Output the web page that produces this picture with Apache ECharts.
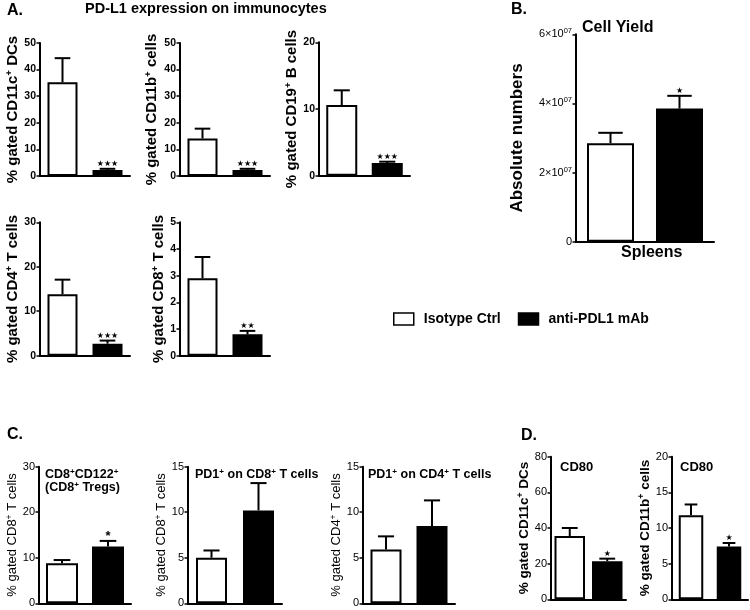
<!DOCTYPE html>
<html><head><meta charset="utf-8">
<script src="https://cdn.jsdelivr.net/npm/echarts@6/dist/echarts.min.js"></script>
<style>html,body{margin:0;padding:0;background:#fff}#c{width:750px;height:610px}</style>
</head><body><div id="c"></div>
<script>
// ---------- data ----------
const panelIds   = ['A1','A2','A3','A4','A5','B','C1','C2','C3','D1','D2'];
const groups     = ['Isotype Ctrl','anti-PDL1 mAb'];
const isoMean    = [35.2, 14.1, 10.6, 13.8, 2.9, 2.85e7, 8.8, 5.0, 5.9, 35.5, 11.8];
const isoUpper   = [44.3, 17.8, 12.8, 17.1, 3.7, 3.15e7, 9.5, 5.8, 7.35, 40.0, 13.3];
const antiMean   = [2.3, 2.3, 1.9, 2.7, 0.8, 3.85e7, 12.5, 10.2, 8.5, 21.4, 7.4];
const antiUpper  = [2.7, 2.7, 2.1, 3.4, 0.93, 4.22e7, 13.7, 13.2, 11.3, 22.8, 7.9];
const signif     = ['★★★','★★★','★★★','★★★','★★','★','*','','','★','★'];
const yMax       = [50, 50, 20, 30, 5, 6e7, 30, 15, 15, 80, 20];
const yInterval  = [10, 10, 10, 10, 1, 2e7, 10, 5, 5, 20, 5];
const yNames     = ['% gated CD11c{s|+} DCs','% gated CD11b{s|+} cells','% gated CD19{s|+} B cells',
                    '% gated CD4{s|+} T cells','% gated CD8{s|+} T cells','Absolute numbers',
                    '% gated CD8{s|+} T cells','% gated CD8{s|+} T cells','% gated CD4{s|+} T cells',
                    '% gated CD11c{s|+} DCs','% gated CD11b{s|+} cells'];
const bTickLabels = ['0','{m|2×10}{s|07}','{m|4×10}{s|07}','{m|6×10}{s|07}'];

// ---------- layout / style ----------
const FONT = 'Liberation Sans, Arial, sans-serif';
const gLeft   = [40, 180, 319, 40, 180, 576, 39, 188, 363, 551, 672];
const gTop    = [43, 43, 42.3, 222.3, 222.3, 34.3, 466.7, 466.7, 466.7, 456.7, 456.7];
const gWidth  = [90, 90, 91, 90, 90, 138, 92, 94, 92, 75, 76];
const gHeight = [133, 133, 133.4, 133.4, 133.4, 207.4, 136.6, 136.6, 136.6, 142.6, 142.6];
const barW    = [30, 30, 31, 30, 30, 47, 32, 31, 31, 30.5, 24.5];
const nGap    = [16, 20, 19, 17, 12, 50, 17, 13, 14, 15, 15];
const nSize   = [15, 15, 15, 15, 15, 17, 13, 13, 13, 13.5, 13.5];
const nWeight = ['bold','bold','bold','bold','bold','bold','normal','normal','normal','bold','bold'];
const tickSize= [10.5,10.5,10.5,10.5,10.5,11,11,11,11,11,11];
const tickW   = ['bold','bold','bold','bold','bold','normal','normal','normal','normal','normal','normal'];

const grid = [], xAxis = [], yAxis = [], series = [];
panelIds.forEach((id, i) => {
  grid.push({left: gLeft[i], top: gTop[i], width: gWidth[i], height: gHeight[i], outerBoundsMode: 'none'});
  xAxis.push({type: 'category', gridIndex: i, data: groups,
    axisLine: {show: true, lineStyle: {color: '#000', width: 2}},
    axisTick: {show: false}, axisLabel: {show: false}});
  const isB = id === 'B';
  yAxis.push({type: 'value', gridIndex: i, min: 0, max: yMax[i], interval: yInterval[i],
    axisLine: {show: true, lineStyle: {color: '#000', width: 2}},
    axisTick: {show: true, length: 3.5, lineStyle: {color: '#000', width: 1.5}},
    splitLine: {show: false},
    axisLabel: isB ? {
        margin: 4, formatter: (v, idx) => bTickLabels[idx],
        color: '#000', fontFamily: FONT, fontSize: 11,
        rich: {m: {fontSize: 11, fontFamily: FONT, color: '#000'},
               s: {fontSize: 7.5, fontFamily: FONT, color: '#000', verticalAlign: 'top', padding: [0,0,6,0]}}
      } : {margin: 4, color: '#000', fontFamily: FONT, fontSize: tickSize[i], fontWeight: tickW[i]},
    name: yNames[i], nameLocation: 'middle', nameRotate: 90, nameGap: nGap[i],
    nameTextStyle: {color: '#000', fontFamily: FONT, fontSize: nSize[i], fontWeight: nWeight[i],
      rich: {s: {fontSize: nSize[i] * 0.65, fontFamily: FONT, fontWeight: nWeight[i], color: '#000',
                 verticalAlign: 'top', padding: [0, 0, nSize[i] * 0.45, 0]}}}
  });
  series.push({type: 'bar', name: groups[0], xAxisIndex: i, yAxisIndex: i,
    data: [isoMean[i], '-'], barWidth: barW[i], barGap: '-100%',
    itemStyle: {color: '#fff', borderColor: '#000', borderWidth: 2}, z: 2});
  series.push({type: 'bar', name: groups[1], xAxisIndex: i, yAxisIndex: i,
    data: ['-', antiMean[i]], barWidth: barW[i], barGap: '-100%',
    itemStyle: {color: '#000', borderColor: '#000', borderWidth: 2}, z: 2});
  const capHalf = barW[i] * 0.26;
  series.push({type: 'custom', xAxisIndex: i, yAxisIndex: i, z: 5,
    data: [[0, isoMean[i], isoUpper[i]], [1, antiMean[i], antiUpper[i]]],
    renderItem: (params, api) => {
      const x = api.value(0), m = api.value(1), u = api.value(2);
      const p0 = api.coord([x, m]), p1 = api.coord([x, u]);
      const ch = [
        {type: 'line', shape: {x1: p0[0], y1: p0[1], x2: p1[0], y2: p1[1]}, style: {stroke: '#000', lineWidth: 2}},
        {type: 'line', shape: {x1: p1[0] - capHalf, y1: p1[1], x2: p1[0] + capHalf, y2: p1[1]}, style: {stroke: '#000', lineWidth: 2}}
      ];
      if (x === 1 && signif[i]) {
        const star = signif[i] === '*';
        ch.push({type: 'text', x: p1[0], y: p1[1] - (star ? -2 : 1),
          style: {text: signif[i], align: 'center', verticalAlign: 'bottom', fill: '#000',
                  font: star ? 'bold 13px ' + FONT : '8px DejaVu Sans, sans-serif'}});
      }
      return {type: 'group', children: ch};
    }});
});

const sup = (fs, w) => ({s: {fontSize: fs * 0.65, fontWeight: w || 'bold', fontFamily: FONT, color: '#000',
                              verticalAlign: 'top', padding: [0, 0, fs * 0.45, 0]}});
const tt = (text, left, top, fs, w) => ({text, left, top, padding: 0,
  textStyle: {fontFamily: FONT, fontSize: fs, fontWeight: w || 'bold', color: '#000', rich: sup(fs, w)}});

const title = [
  tt('A.', 7, 3, 16),
  tt('PD-L1 expression on immunocytes', 85, 1, 14.5),
  tt('B.', 511, 2, 16),
  tt('Cell Yield', 582, 20, 16),
  tt('Spleens', 621, 245, 16),
  tt('C.', 7, 427, 16),
  tt('D.', 521, 428, 16),
  tt('CD8{s|+}CD122{s|+}', 45, 468, 12.5),
  tt('(CD8{s|+} Tregs)', 45, 481, 12.5),
  tt('PD1{s|+} on CD8{s|+} T cells', 195, 468, 12.5),
  tt('PD1{s|+} on CD4{s|+} T cells', 368, 468, 12.5),
  tt('CD80', 560, 461, 13),
  tt('CD80', 680, 461, 13)
];

const chart = echarts.init(document.getElementById('c'), null, {renderer: 'canvas'});
chart.setOption({
  animation: false, backgroundColor: '#fff',
  title, grid, xAxis, yAxis, series,
  legend: {left: 393, top: 312, itemWidth: 20, itemHeight: 12, itemGap: 17, padding: 0,
    textStyle: {fontFamily: FONT, fontSize: 14, fontWeight: 'bold', color: '#000', padding: [0, 0, 0, 5]},
    selectedMode: false,
    data: [{name: groups[0], icon: 'rect', itemStyle: {color: '#fff', borderColor: '#000', borderWidth: 1.5}},
           {name: groups[1], icon: 'rect', itemStyle: {color: '#000', borderColor: '#000', borderWidth: 1.5}}]}
});
</script></body></html>
